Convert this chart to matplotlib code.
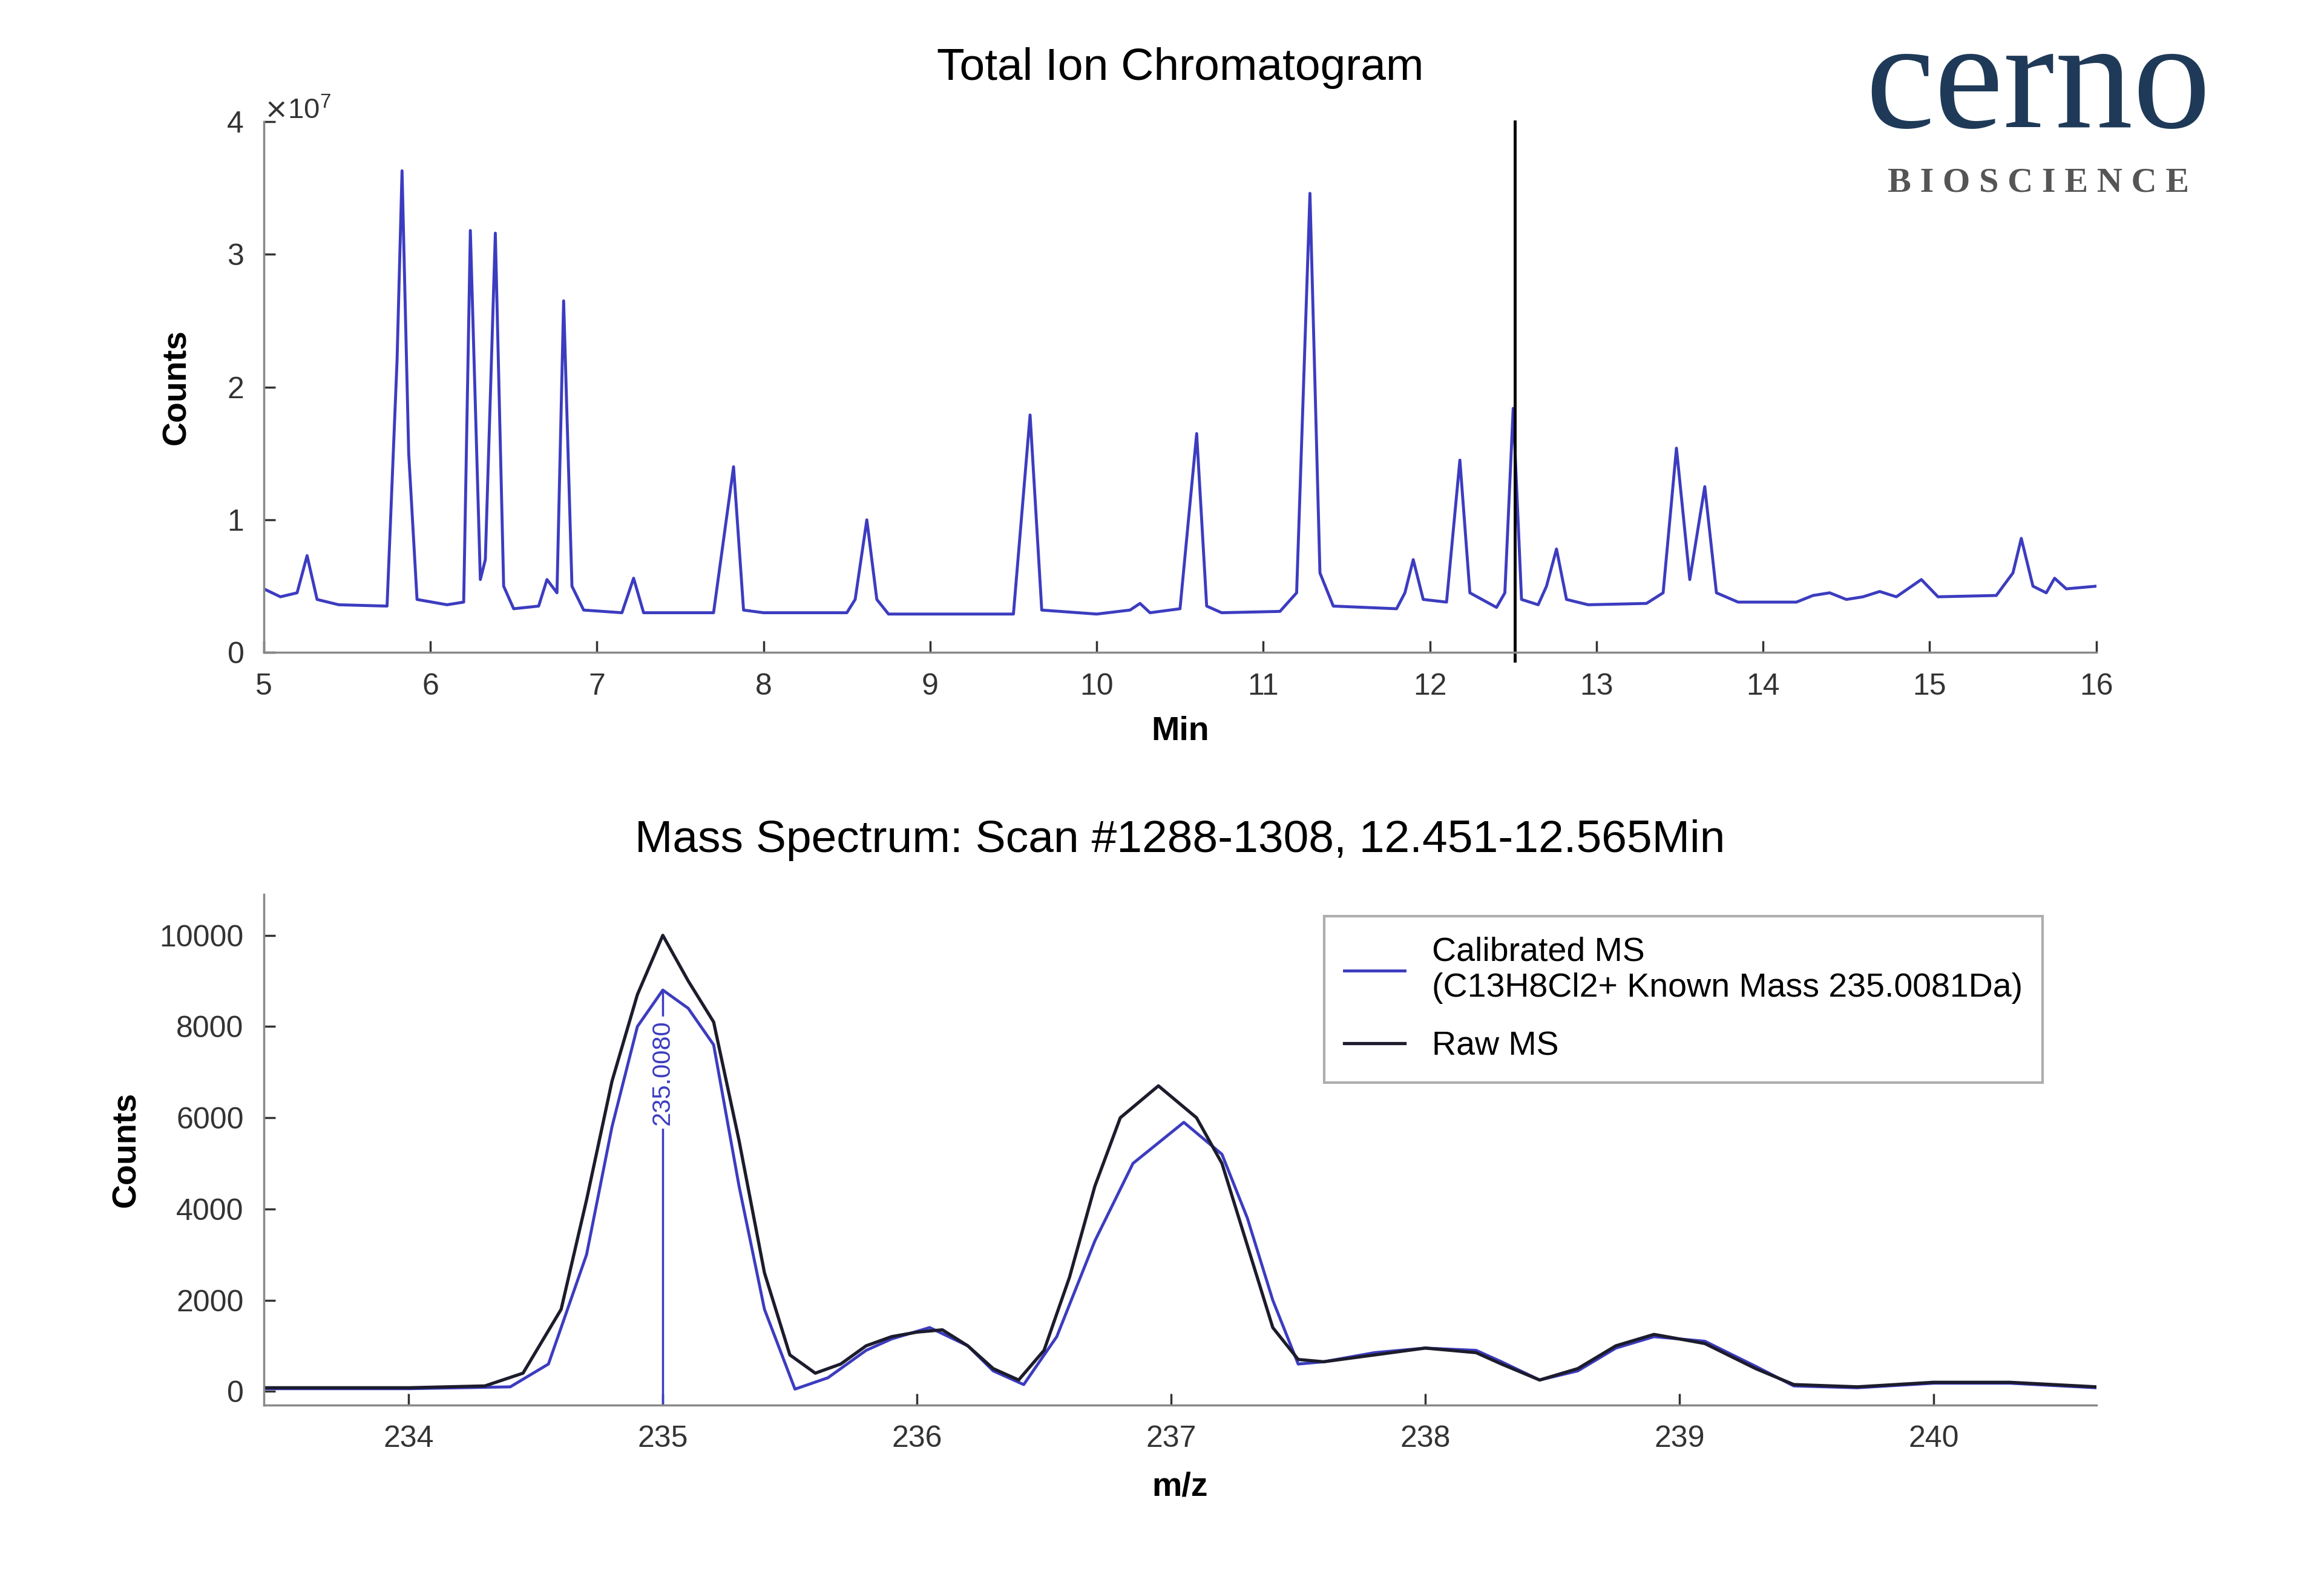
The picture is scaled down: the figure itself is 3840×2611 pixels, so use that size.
import matplotlib
matplotlib.use('Agg')
import matplotlib.pyplot as plt
from matplotlib.ticker import ScalarFormatter
import numpy as np

plt.rcParams['font.family'] = ['Liberation Sans', 'DejaVu Sans']

# Total ion chromatogram (time in min, counts in units of 1e7)
tic_time = [5.00, 5.10, 5.20, 5.26, 5.32, 5.45, 5.74, 5.80, 5.83, 5.87, 5.92,
            6.10, 6.20, 6.24, 6.30, 6.33, 6.39, 6.44, 6.50, 6.65, 6.70, 6.76,
            6.80, 6.85, 6.92, 7.15, 7.22, 7.28, 7.70, 7.82, 7.88, 8.00, 8.50,
            8.55, 8.62, 8.68, 8.75, 9.50, 9.60, 9.67, 10.00, 10.20, 10.26,
            10.32, 10.50, 10.60, 10.66, 10.75, 11.10, 11.20, 11.28, 11.34,
            11.42, 11.80, 11.85, 11.90, 11.96, 12.10, 12.18, 12.24, 12.40,
            12.45, 12.50, 12.55, 12.65, 12.70, 12.76, 12.82, 12.95, 13.30,
            13.40, 13.48, 13.56, 13.65, 13.72, 13.85, 14.20, 14.30, 14.40,
            14.50, 14.60, 14.70, 14.80, 14.95, 15.05, 15.40, 15.50, 15.55,
            15.62, 15.70, 15.75, 15.82, 16.00]
tic_counts_e7 = [0.48, 0.42, 0.45, 0.73, 0.40, 0.36, 0.35, 2.20, 3.63, 1.50, 0.40,
                 0.36, 0.38, 3.18, 0.55, 0.70, 3.16, 0.50, 0.33, 0.35, 0.55, 0.45,
                 2.65, 0.50, 0.32, 0.30, 0.56, 0.30, 0.30, 1.40, 0.32, 0.30, 0.30,
                 0.40, 1.00, 0.40, 0.29, 0.29, 1.79, 0.32, 0.29, 0.32, 0.37,
                 0.30, 0.33, 1.65, 0.35, 0.30, 0.31, 0.45, 3.46, 0.60,
                 0.35, 0.33, 0.45, 0.70, 0.40, 0.38, 1.45, 0.45, 0.34,
                 0.45, 1.84, 0.40, 0.36, 0.50, 0.78, 0.40, 0.36, 0.37,
                 0.45, 1.54, 0.55, 1.25, 0.45, 0.38, 0.38, 0.43, 0.45,
                 0.40, 0.42, 0.46, 0.42, 0.55, 0.42, 0.43, 0.60, 0.86,
                 0.50, 0.45, 0.56, 0.48, 0.50]
scan_time = 12.51

# Mass spectrum, raw
raw_mz = [233.43, 234.0, 234.3, 234.45, 234.6, 234.7, 234.8, 234.9, 235.0, 235.1,
          235.2, 235.3, 235.4, 235.5, 235.6, 235.7, 235.8, 235.9, 236.0, 236.1,
          236.2, 236.3, 236.4, 236.5, 236.6, 236.7, 236.8, 236.95, 237.1, 237.2,
          237.3, 237.4, 237.5, 237.6, 237.8, 238.0, 238.2, 238.3, 238.45, 238.6,
          238.75, 238.9, 239.1, 239.3, 239.45, 239.7, 240.0, 240.3, 240.64]
raw_counts = [80, 80, 120, 400, 1800, 4200, 6800, 8700, 10000, 9000,
              8100, 5500, 2600, 800, 400, 600, 1000, 1200, 1300, 1350,
              1000, 500, 250, 900, 2500, 4500, 6000, 6700, 6000, 5000,
              3200, 1400, 700, 650, 800, 950, 850, 600, 250, 500,
              1000, 1250, 1050, 500, 150, 100, 200, 200, 100]

# Mass spectrum, calibrated
cal_mz = [233.43, 234.0, 234.4, 234.55, 234.7, 234.8, 234.9, 235.0, 235.1,
          235.2, 235.3, 235.4, 235.52, 235.65, 235.8, 235.9, 236.05, 236.2,
          236.3, 236.42, 236.55, 236.7, 236.85, 237.05, 237.2, 237.3, 237.4,
          237.5, 237.6, 237.8, 238.0, 238.2, 238.3, 238.45, 238.6, 238.75,
          238.9, 239.1, 239.3, 239.45, 239.7, 240.0, 240.3, 240.64]
cal_counts = [60, 60, 100, 600, 3000, 5800, 8000, 8800, 8400,
              7600, 4500, 1800, 50, 300, 900, 1150, 1400, 1000,
              450, 150, 1200, 3300, 5000, 5900, 5200, 3800, 2000,
              600, 650, 850, 950, 900, 650, 250, 450, 950,
              1200, 1100, 550, 120, 80, 180, 180, 80]
peak_mz = 235.0
peak_label = '235.0080'
peak_height = 8800

blue = '#3c3cc0'
dark = '#1c1c2c'

fig = plt.figure(figsize=(38.4, 26.11), dpi=100)

# ---- Total ion chromatogram ----
ax1 = fig.add_axes([0.1135, 0.587, 0.7885, 0.336])
ax1.plot(tic_time, np.array(tic_counts_e7) * 1e7, color=blue, lw=3.5)
ax1.axvline(scan_time, ymin=-0.015, ymax=1.0, color='black', lw=3.5, clip_on=False)
ax1.set_xlim(5, 16)
ax1.set_ylim(0, 4e7)
ax1.set_xticks(range(5, 17))
ax1.set_yticks([0, 1e7, 2e7, 3e7, 4e7])
fmt = ScalarFormatter(useMathText=True)
fmt.set_powerlimits((0, 0))
ax1.yaxis.set_major_formatter(fmt)
ax1.yaxis.get_offset_text().set_fontsize(34)
ax1.set_title('Total Ion Chromatogram', fontsize=54, pad=50)
ax1.set_xlabel('Min', fontsize=40, fontweight='bold', labelpad=18)
ax1.set_ylabel('Counts', fontsize=40, fontweight='bold', labelpad=40)

# ---- Mass spectrum ----
ax2 = fig.add_axes([0.1135, 0.1107, 0.7885, 0.3233])
ax2.plot(cal_mz, cal_counts, color=blue, lw=3.5,
         label='Calibrated MS\n(C13H8Cl2+ Known Mass 235.0081Da)')
ax2.plot(raw_mz, raw_counts, color=dark, lw=3.8, label='Raw MS')
ax2.plot([peak_mz, peak_mz], [-300, peak_height], color=blue, lw=2.5)
ax2.text(peak_mz, 7000, peak_label, rotation=90, color=blue, fontsize=30,
         ha='center', va='center', backgroundcolor='white')
ax2.set_xlim(233.43, 240.64)
ax2.set_ylim(-300, 10900)
ax2.set_xticks(range(234, 241))
ax2.set_yticks(range(0, 10001, 2000))
ax2.set_title('Mass Spectrum: Scan #1288-1308, 12.451-12.565Min', fontsize=54, pad=50)
ax2.set_xlabel('m/z', fontsize=40, fontweight='bold', labelpad=22)
ax2.set_ylabel('Counts', fontsize=40, fontweight='bold', labelpad=20)
leg = ax2.legend(loc='upper right', bbox_to_anchor=(0.98, 0.99), fontsize=40,
                 fancybox=False, edgecolor='#999999', handlelength=1.8,
                 borderpad=0.6, labelspacing=0.8)
leg.get_frame().set_linewidth(3)

for ax in (ax1, ax2):
    ax.spines['top'].set_visible(False)
    ax.spines['right'].set_visible(False)
    ax.spines['left'].set_color('#888888')
    ax.spines['bottom'].set_color('#888888')
    ax.spines['left'].set_linewidth(2.5)
    ax.spines['bottom'].set_linewidth(2.5)
    ax.tick_params(direction='in', length=14, width=2.5, labelsize=36, pad=24,
                   colors='#333333')

# ---- logo ----
fig.text(0.877, 0.943, 'cerno', fontsize=185, family='Liberation Serif',
         color='#1f3a58', ha='center', va='center')
fig.text(0.877, 0.884, 'B I O S C I E N C E', fontsize=42, family='Liberation Serif',
         color='#555555', ha='center', va='center', fontweight='bold')

fig.savefig('out.png', dpi=100)
